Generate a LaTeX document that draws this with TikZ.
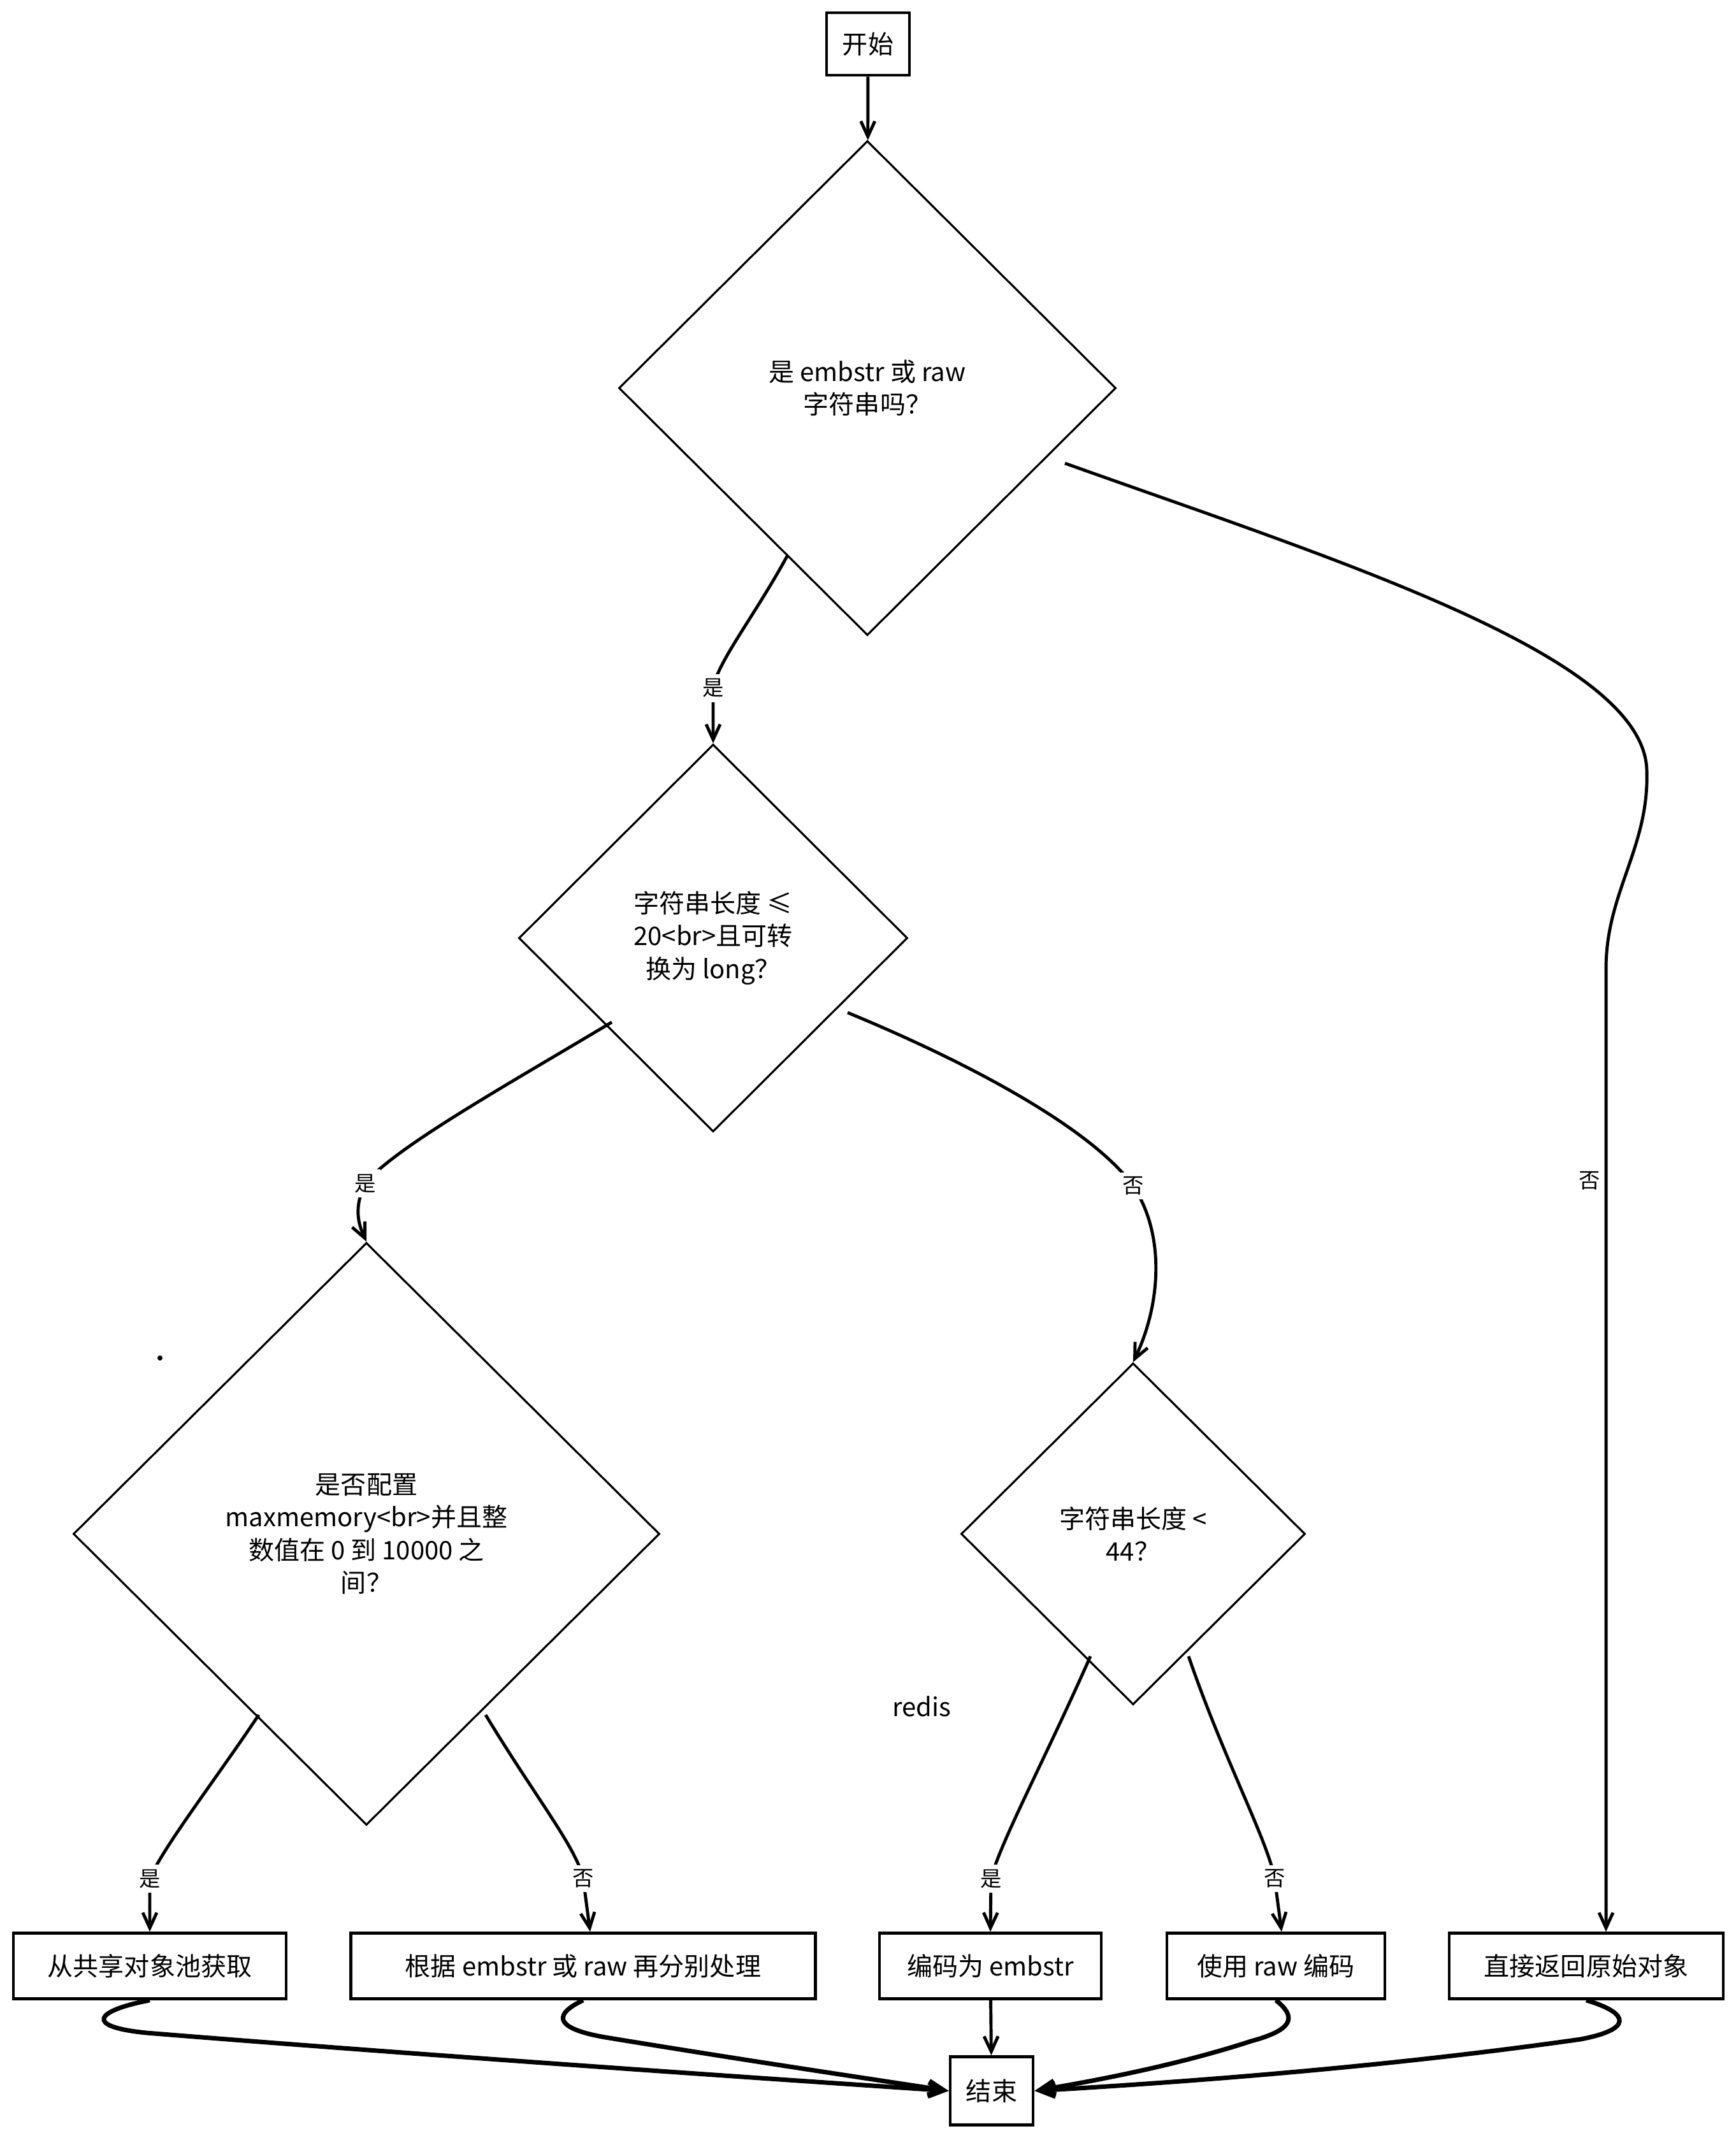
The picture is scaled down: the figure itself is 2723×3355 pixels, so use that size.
\documentclass[tikz,border=0pt]{standalone}
\usepackage{fontspec}
\newfontfamily\cjk{Noto Sans CJK SC}
\usepackage{tikz}
\usetikzlibrary{positioning,shapes.geometric,arrows.meta}

\begin{document}
\begin{tikzpicture}[x=0.1mm,y=-0.1mm,
    font=\cjk\fontsize{11.4}{14.6}\selectfont,
    box/.style={draw, line width=1.3pt, minimum height=10.3mm, inner sep=0pt},
    cond/.style={draw, diamond, line width=0.9pt, align=center, inner sep=0pt},
    lbl/.style={fill=white, inner sep=2pt, font=\cjk\fontsize{9.5}{11}\selectfont},
    arr/.style={line width=1.4pt, -{Straight Barb[length=2.4mm,width=2.2mm]}},
    back/.style={arr, line width=2pt}]
    \useasboundingbox (0,0) rectangle (2723,3355);

    % start and the questions
    \node[box, minimum width=13mm, minimum height=9.8mm] (start) at (1362,69) {开始};
    \node[cond, minimum width=78mm, minimum height=77.6mm] (d1) at (1361,609) {是 embstr 或 raw\\字符串吗？};
    \node[cond, minimum width=61mm, minimum height=60.8mm] (d2) at (1119,1472) {字符串长度 ≤\\20<br>且可转\\换为 long？};
    \node[cond, minimum width=92mm, minimum height=91.4mm] (d3) at (575,2407) {是否配置\\maxmemory<br>并且整\\数值在 0 到 10000 之\\间？};
    \node[cond, minimum width=54mm, minimum height=53.6mm] (d4) at (1778,2407) {字符串长度 <\\44？};

    % the results
    \node[box, minimum width=42.8mm] (shared) at (235,3085) {从共享对象池获取};
    \node[box, minimum width=72.9mm] (split) at (915,3085) {根据 embstr 或 raw 再分别处理};
    \node[box, minimum width=34.8mm] (emb) at (1554,3085) {编码为 embstr};
    \node[box, minimum width=34.2mm] (raw) at (2002,3085) {使用 raw 编码};
    \node[box, minimum width=43mm] (orig) at (2489,3085) {直接返回原始对象};
    \node[box, minimum width=13mm, minimum height=10.7mm] (stop) at (1556,3281) {结束};

    % loose bits
    \node (redis) at (1446,2678) {redis};
    \fill (251,2131) circle (0.4mm);

    % where the connectors leave the diamonds
    \coordinate (d1yes) at (1236,871);
    \coordinate (d1no) at (1671,727);
    \coordinate (d2yes) at (960,1604);
    \coordinate (d2no) at (1330,1589);
    \coordinate (d3yes) at (406,2691);
    \coordinate (d3no) at (762,2691);
    \coordinate (d4yes) at (1711,2599);
    \coordinate (d4no) at (1865,2599);

    % draw the arrows
    \draw[arr] (start) -- (d1);
    \draw[arr] (d1yes) .. controls (1185,965) and (1125,1040) .. (1119,1080) node[lbl]{是} -- (d2.north);
    \draw[arr] (d1no) .. controls (2100,880) and (2580,1030) .. (2584,1209)
        .. controls (2588,1330) and (2520,1400) .. (2520,1520)
        -- node[lbl,left,fill=none,pos=0.22]{否} ([xshift=3.1mm]orig.north);
    \draw[arr] (d2yes) .. controls (800,1700) and (620,1800) .. (573,1857) node[lbl]{是}
        .. controls (555,1895) and (562,1920) .. (d3.north);
    \draw[arr] (d2no) .. controls (1550,1680) and (1720,1780) .. (1778,1861) node[lbl]{否}
        .. controls (1830,1940) and (1820,2050) .. (d4.north);
    \draw[arr] (d3yes) .. controls (340,2790) and (255,2900) .. (235,2948) node[lbl]{是} -- (shared.north);
    \draw[arr] (d3no) .. controls (840,2820) and (905,2900) .. (915,2948) node[lbl]{否} -- ([xshift=1.1mm]split.north);
    \draw[arr] (d4yes) .. controls (1640,2760) and (1570,2890) .. (1555,2948) node[lbl]{是} -- (emb.north);
    \draw[arr] (d4no) .. controls (1920,2760) and (1990,2890) .. (2000,2948) node[lbl]{否} -- ([xshift=0.9mm]raw.north);

    % everything ends in the same place
    \draw[back] (shared.south) .. controls (150,3155) and (130,3180) .. (230,3190)
        .. controls (600,3220) and (1100,3255) .. (stop.west);
    \draw[back] (split.south) .. controls (860,3165) and (880,3185) .. (950,3197)
        .. controls (1150,3230) and (1350,3260) .. (stop.west);
    \draw[arr] (emb) -- (stop);
    \draw[back] (raw.south) .. controls (2035,3165) and (2030,3185) .. (1963,3203)
        .. controls (1850,3240) and (1720,3265) .. (stop.east);
    \draw[back] (orig.south) .. controls (2560,3160) and (2560,3185) .. (2480,3200)
        .. controls (2200,3240) and (1900,3265) .. (stop.east);

\end{tikzpicture}
\end{document}
